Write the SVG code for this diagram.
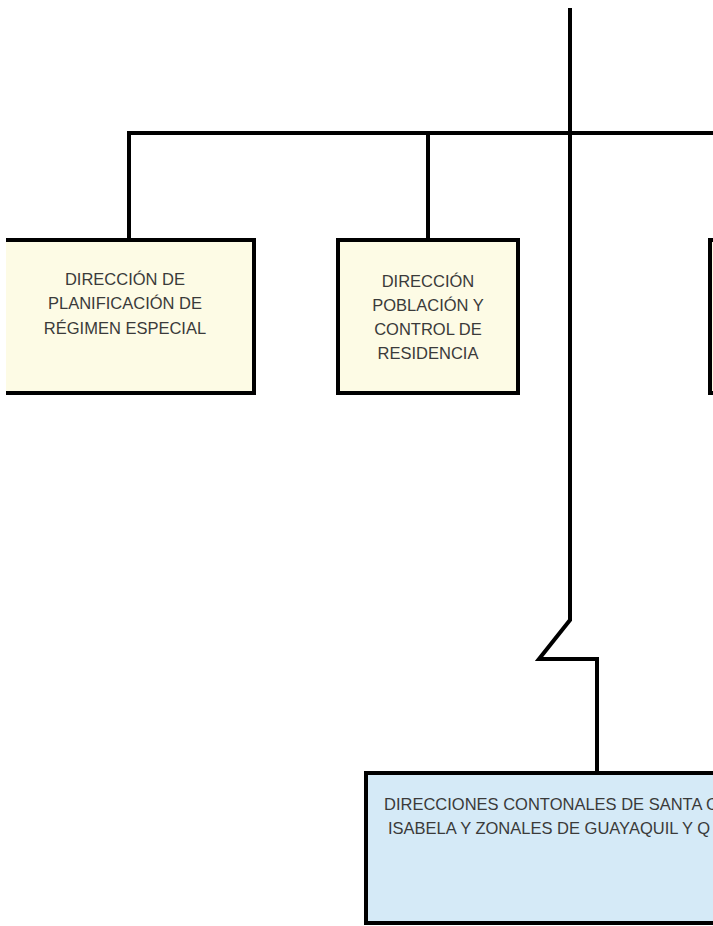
<svg xmlns="http://www.w3.org/2000/svg" width="713" height="926" viewBox="0 0 713 926">
<style>
.ln{fill:none;stroke:#000;stroke-width:4;stroke-linejoin:miter;stroke-linecap:butt}
.y{fill:#FDFBE5;stroke:#000;stroke-width:4}
.b{fill:#D5EAF7;stroke:#000;stroke-width:4}
.t{font-family:"Liberation Sans",Arial,sans-serif;font-size:16.5px;fill:#3a3a3a;text-anchor:middle}
.ts{font-family:"Liberation Sans",Arial,sans-serif;font-size:16.5px;fill:#3a3a3a}
</style>
<rect width="713" height="926" fill="#fff"/>
<g id="connectors">
<path class="ln" d="M570,8 V620 L539,659 H597 V773" stroke-width="3.5"/>
<path class="ln" d="M129,240 V133 H713"/>
<path class="ln" d="M428,133 V240"/>
</g>
<g id="n1">
<rect x="6" y="240" width="248" height="153" fill="#FDFBE5"/>
<path class="ln" d="M6,240 H254 V393 H6"/>
<text class="t" x="125" y="285">DIRECCIÓN DE</text>
<text class="t" x="125" y="309">PLANIFICACIÓN DE</text>
<text class="t" x="125" y="334">RÉGIMEN ESPECIAL</text>
</g>
<g id="n2">
<rect class="y" x="338" y="240" width="180" height="153"/>
<text class="t" x="428" y="287">DIRECCIÓN</text>
<text class="t" x="428" y="311">POBLACIÓN Y</text>
<text class="t" x="428" y="335">CONTROL DE</text>
<text class="t" x="428" y="359">RESIDENCIA</text>
</g>
<g id="n3">
<rect class="y" x="710" y="240" width="20" height="153"/>
</g>
<g id="n4">
<rect class="b" x="366" y="773" width="370" height="150"/>
<text class="ts" x="384" y="810">DIRECCIONES CONTONALES DE SANTA C</text>
<text class="ts" x="388" y="834">ISABELA Y ZONALES DE GUAYAQUIL Y Q</text>
</g>
</svg>
